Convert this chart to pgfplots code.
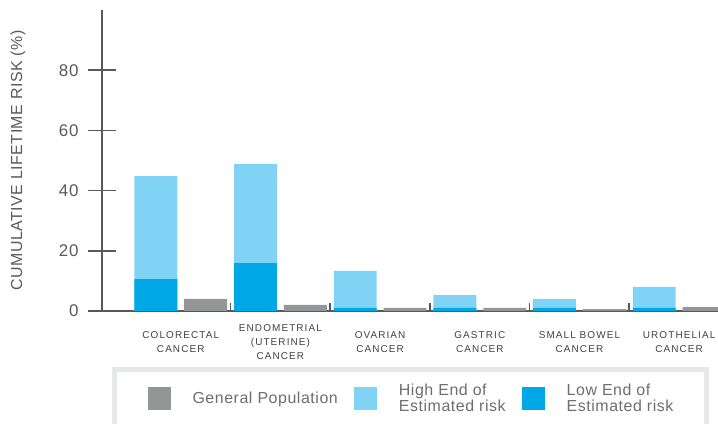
\documentclass[border=0pt]{standalone}
\usepackage{fontspec}
\setmainfont{Liberation Sans}
\newfontfamily\catfont{Liberation Sans}[LetterSpace=11]
\newfontfamily\lsfont{Liberation Sans}[LetterSpace=3]
\newfontfamily\tickfont{Liberation Sans}[LetterSpace=5]
\newfontfamily\legfont{Liberation Sans}[LetterSpace=3.5]
\usepackage{pgfplots}
\pgfplotsset{compat=1.18}
\definecolor{graybar}{HTML}{939598}
\definecolor{lightblue}{HTML}{80D3F4}
\definecolor{bluebar}{HTML}{00A9E5}
\definecolor{axisgray}{HTML}{58595B}
\definecolor{legborder}{HTML}{E6E7E8}
\definecolor{textgray}{HTML}{6D6E71}
\definecolor{catgray}{HTML}{414042}
\begin{document}
\begin{tikzpicture}
\useasboundingbox (0,0) rectangle (718bp,424bp);
\begin{axis}[
  at={(102bp,113bp)}, anchor=south west,
  scale only axis, width=616bp, height=301bp,
  xmin=-1.08, xmax=11.28, ymin=0, ymax=100,
  axis x line*=bottom, axis y line*=left,
  axis line style={draw=axisgray, line width=1.6bp, -},
  /pgf/number format/assume math mode=true,
  xtick={1.5,3.5,5.5,7.5,9.5}, xticklabels={},
  major tick length=8bp, tick align=inside,
  tick style={draw=axisgray, line width=1.6bp},
  ytick=\empty,
  extra y ticks={0,20,40,60,80},
  extra y tick style={major tick length=28bp, tick align=center},
  yticklabel style={font=\fontsize{17}{19}\tickfont, text=axisgray, xshift=-6bp},
  extra x ticks={0.5,2.5,4.5,6.5,8.5,10.5},
  extra x tick labels={COLORECTAL\\CANCER, ENDOMETRIAL\\(UTERINE)\\CANCER, OVARIAN\\CANCER, GASTRIC\\CANCER, SMALL BOWEL\\CANCER, UROTHELIAL\\CANCER},
  extra x tick style={major tick length=0pt},
  xticklabel style={font=\fontsize{10}{14}\catfont, text=catgray, align=center, anchor=center, yshift=-31bp},
  ylabel={CUMULATIVE LIFETIME RISK (\%)},
  every axis y label/.style={at={(axis description cs:0,0.5)}, xshift=-84bp, rotate=90, anchor=center, font=\fontsize{16}{19}\lsfont, text=axisgray},
  legend image code/.code={\fill[#1] (0bp,-11.5bp) rectangle (23bp,11.5bp);},
  legend columns=3,
  legend cell align=left,
  legend style={at={(0,0)}, anchor=north west, xshift=12.5bp, yshift=-58.5bp,
    draw=legborder, line width=5bp, fill=white, outer sep=0pt,
    inner xsep=33bp, inner ysep=14bp,
    font=\fontsize{16}{17}\legfont, text=textgray,
    /tikz/every odd column/.style={column sep=22bp},
    /tikz/every even column/.style={column sep=16bp},
    nodes={inner sep=0pt, anchor=west, align=left}},
]
\addplot[ybar, bar width=0.86, bar shift=0pt, fill=lightblue, draw=none, forget plot]
  coordinates {(0,44.8) (2,48.8) (4,13.3) (6,5.3) (8,4.0) (10,8.0)};
\addplot[ybar, bar width=0.86, bar shift=0pt, fill=bluebar, draw=none, forget plot]
  coordinates {(0,10.6) (2,15.9) (4,1.0) (6,1.0) (8,1.0) (10,1.0)};
\addplot[ybar, bar width=0.86, bar shift=0pt, fill=graybar, draw=none, forget plot]
  coordinates {(1,4.0) (3,2.0) (5,1.0) (7,1.0) (9,0.6) (11,1.3)};
\addlegendimage{fill=graybar, draw=none}
\addlegendentry{General Population}
\addlegendimage{fill=lightblue, draw=none}
\addlegendentry{High End of\\Estimated risk}
\addlegendimage{fill=bluebar, draw=none}
\addlegendentry{Low End of\\Estimated risk}
\end{axis}
\end{tikzpicture}
\end{document}
